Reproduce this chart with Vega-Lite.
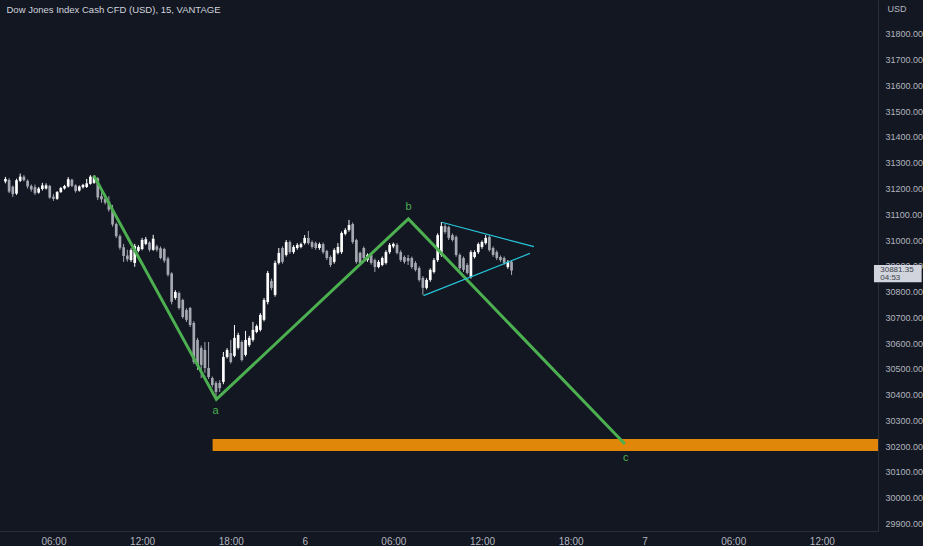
{
  "$schema": "https://vega.github.io/schema/vega-lite/v6.json",
  "width": 878,
  "height": 531,
  "padding": 0,
  "autosize": {"type": "pad"},
  "background": "#131722",
  "config": {"view": {"stroke": null}, "font": "Liberation Sans", "axis": {"labelOverlap": false, "labelFlush": false}},
  "resolve": {"axis": {"x": "independent", "y": "independent"}},
  "datasets": {
    "zone": [{"i1": 43.08, "i2": 240, "p1": 30181, "p2": 30227}],
    "candles": [
      {"i": -13, "o": 31227, "h": 31245, "l": 31220, "c": 31237},
      {"i": -12, "o": 31233, "h": 31240, "l": 31182, "c": 31188},
      {"i": -11, "o": 31207, "h": 31212, "l": 31167, "c": 31178},
      {"i": -10, "o": 31180, "h": 31238, "l": 31175, "c": 31232},
      {"i": -9, "o": 31230, "h": 31258, "l": 31225, "c": 31246},
      {"i": -8, "o": 31246, "h": 31252, "l": 31228, "c": 31232},
      {"i": -7, "o": 31230, "h": 31235, "l": 31200, "c": 31208},
      {"i": -6, "o": 31210, "h": 31216, "l": 31188, "c": 31196},
      {"i": -5, "o": 31205, "h": 31215, "l": 31175, "c": 31182},
      {"i": -4, "o": 31184, "h": 31206, "l": 31180, "c": 31200},
      {"i": -3, "o": 31198, "h": 31222, "l": 31192, "c": 31212},
      {"i": -2, "o": 31200, "h": 31220, "l": 31196, "c": 31212},
      {"i": -1, "o": 31210, "h": 31214, "l": 31160, "c": 31165},
      {"i": 0, "o": 31168, "h": 31178, "l": 31152, "c": 31160},
      {"i": 1, "o": 31160, "h": 31190, "l": 31156, "c": 31186},
      {"i": 2, "o": 31186, "h": 31206, "l": 31183, "c": 31202},
      {"i": 3, "o": 31200, "h": 31214, "l": 31196, "c": 31210},
      {"i": 4, "o": 31208, "h": 31244, "l": 31204, "c": 31236},
      {"i": 5, "o": 31234, "h": 31238, "l": 31205, "c": 31210},
      {"i": 6, "o": 31212, "h": 31216, "l": 31184, "c": 31190},
      {"i": 7, "o": 31192, "h": 31212, "l": 31188, "c": 31208},
      {"i": 8, "o": 31205, "h": 31218, "l": 31200, "c": 31214},
      {"i": 9, "o": 31206, "h": 31237, "l": 31202, "c": 31220},
      {"i": 10, "o": 31218, "h": 31252, "l": 31215, "c": 31246},
      {"i": 11, "o": 31222, "h": 31252, "l": 31218, "c": 31248},
      {"i": 12, "o": 31240, "h": 31244, "l": 31155, "c": 31165},
      {"i": 13, "o": 31170, "h": 31185, "l": 31145, "c": 31158},
      {"i": 14, "o": 31160, "h": 31178, "l": 31138, "c": 31145},
      {"i": 15, "o": 31150, "h": 31170, "l": 31110, "c": 31118},
      {"i": 16, "o": 31120, "h": 31136, "l": 31052, "c": 31060},
      {"i": 17, "o": 31062, "h": 31068, "l": 31008, "c": 31015},
      {"i": 18, "o": 31015, "h": 31022, "l": 30962, "c": 30970},
      {"i": 19, "o": 30972, "h": 30985, "l": 30915, "c": 30938},
      {"i": 20, "o": 30940, "h": 30962, "l": 30916, "c": 30925},
      {"i": 21, "o": 30922, "h": 30968, "l": 30915, "c": 30961},
      {"i": 22, "o": 30911, "h": 30985, "l": 30896, "c": 30977},
      {"i": 23, "o": 30958, "h": 30980, "l": 30952, "c": 30973},
      {"i": 24, "o": 30965, "h": 31008, "l": 30960, "c": 31000},
      {"i": 25, "o": 30985, "h": 31012, "l": 30980, "c": 31003},
      {"i": 26, "o": 30990, "h": 30995, "l": 30955, "c": 30962},
      {"i": 27, "o": 30962, "h": 31020, "l": 30958, "c": 31005},
      {"i": 28, "o": 30975, "h": 30982, "l": 30955, "c": 30962},
      {"i": 29, "o": 30968, "h": 30975, "l": 30925, "c": 30930},
      {"i": 30, "o": 30965, "h": 30970, "l": 30912, "c": 30920},
      {"i": 31, "o": 30928, "h": 30935, "l": 30858, "c": 30865},
      {"i": 32, "o": 30870, "h": 30875, "l": 30750, "c": 30760},
      {"i": 33, "o": 30775, "h": 30805, "l": 30768, "c": 30798},
      {"i": 34, "o": 30794, "h": 30800, "l": 30730, "c": 30736},
      {"i": 35, "o": 30767, "h": 30772, "l": 30695, "c": 30701},
      {"i": 36, "o": 30728, "h": 30735, "l": 30682, "c": 30690},
      {"i": 37, "o": 30736, "h": 30740, "l": 30662, "c": 30670},
      {"i": 38, "o": 30678, "h": 30685, "l": 30518, "c": 30526},
      {"i": 39, "o": 30612, "h": 30620, "l": 30495, "c": 30515},
      {"i": 40, "o": 30581, "h": 30590, "l": 30464, "c": 30515},
      {"i": 41, "o": 30573, "h": 30604, "l": 30484, "c": 30503},
      {"i": 42, "o": 30503, "h": 30604, "l": 30460, "c": 30468},
      {"i": 43, "o": 30464, "h": 30470, "l": 30428, "c": 30437},
      {"i": 44, "o": 30445, "h": 30452, "l": 30385, "c": 30410},
      {"i": 45, "o": 30445, "h": 30456, "l": 30410, "c": 30425},
      {"i": 46, "o": 30449, "h": 30565, "l": 30440, "c": 30546},
      {"i": 47, "o": 30546, "h": 30580, "l": 30540, "c": 30573},
      {"i": 48, "o": 30561, "h": 30612, "l": 30520, "c": 30526},
      {"i": 49, "o": 30550, "h": 30670, "l": 30545, "c": 30620},
      {"i": 50, "o": 30581, "h": 30640, "l": 30575, "c": 30631},
      {"i": 51, "o": 30604, "h": 30610, "l": 30528, "c": 30534},
      {"i": 52, "o": 30554, "h": 30647, "l": 30548, "c": 30612},
      {"i": 53, "o": 30592, "h": 30628, "l": 30585, "c": 30620},
      {"i": 54, "o": 30612, "h": 30682, "l": 30605, "c": 30651},
      {"i": 55, "o": 30643, "h": 30672, "l": 30638, "c": 30666},
      {"i": 56, "o": 30651, "h": 30716, "l": 30645, "c": 30709},
      {"i": 57, "o": 30690, "h": 30775, "l": 30684, "c": 30767},
      {"i": 58, "o": 30759, "h": 30880, "l": 30750, "c": 30872},
      {"i": 59, "o": 30841, "h": 30850, "l": 30805, "c": 30814},
      {"i": 60, "o": 30787, "h": 30920, "l": 30780, "c": 30911},
      {"i": 61, "o": 30911, "h": 30969, "l": 30905, "c": 30950},
      {"i": 62, "o": 30969, "h": 30975, "l": 30908, "c": 30915},
      {"i": 63, "o": 30942, "h": 31000, "l": 30936, "c": 30992},
      {"i": 64, "o": 30992, "h": 30998, "l": 30946, "c": 30953},
      {"i": 65, "o": 30953, "h": 30980, "l": 30946, "c": 30973},
      {"i": 66, "o": 30969, "h": 30988, "l": 30962, "c": 30981},
      {"i": 67, "o": 30973, "h": 30990, "l": 30968, "c": 30984},
      {"i": 68, "o": 30988, "h": 31019, "l": 30982, "c": 31008},
      {"i": 69, "o": 31008, "h": 31035, "l": 30982, "c": 30988},
      {"i": 70, "o": 30992, "h": 30998, "l": 30966, "c": 30973},
      {"i": 71, "o": 30988, "h": 30994, "l": 30962, "c": 30969},
      {"i": 72, "o": 30969, "h": 30990, "l": 30962, "c": 30984},
      {"i": 73, "o": 30984, "h": 30990, "l": 30946, "c": 30953},
      {"i": 74, "o": 30957, "h": 30962, "l": 30922, "c": 30930},
      {"i": 75, "o": 30934, "h": 30940, "l": 30895, "c": 30903},
      {"i": 76, "o": 30915, "h": 30968, "l": 30908, "c": 30961},
      {"i": 77, "o": 30950, "h": 30988, "l": 30944, "c": 30973},
      {"i": 78, "o": 30953, "h": 31033, "l": 30946, "c": 31027},
      {"i": 79, "o": 31024, "h": 31046, "l": 31018, "c": 31039},
      {"i": 80, "o": 31039, "h": 31078, "l": 31032, "c": 31058},
      {"i": 81, "o": 31062, "h": 31068, "l": 30985, "c": 30992},
      {"i": 82, "o": 31000, "h": 31005, "l": 30908, "c": 30915},
      {"i": 83, "o": 30950, "h": 30955, "l": 30904, "c": 30911},
      {"i": 84, "o": 30969, "h": 30975, "l": 30924, "c": 30930},
      {"i": 85, "o": 30922, "h": 30948, "l": 30915, "c": 30942},
      {"i": 86, "o": 30942, "h": 30948, "l": 30904, "c": 30911},
      {"i": 87, "o": 30922, "h": 30928, "l": 30876, "c": 30895},
      {"i": 88, "o": 30895, "h": 30922, "l": 30890, "c": 30915},
      {"i": 89, "o": 30903, "h": 30936, "l": 30898, "c": 30930},
      {"i": 90, "o": 30911, "h": 30960, "l": 30905, "c": 30953},
      {"i": 91, "o": 30953, "h": 30988, "l": 30946, "c": 30981},
      {"i": 92, "o": 30975, "h": 30990, "l": 30968, "c": 30985},
      {"i": 93, "o": 30981, "h": 30988, "l": 30944, "c": 30950},
      {"i": 94, "o": 30953, "h": 30960, "l": 30915, "c": 30922},
      {"i": 95, "o": 30934, "h": 30940, "l": 30908, "c": 30915},
      {"i": 96, "o": 30930, "h": 30942, "l": 30903, "c": 30918},
      {"i": 97, "o": 30930, "h": 30936, "l": 30888, "c": 30895},
      {"i": 98, "o": 30911, "h": 30918, "l": 30878, "c": 30884},
      {"i": 99, "o": 30891, "h": 30898, "l": 30838, "c": 30845},
      {"i": 100, "o": 30853, "h": 30860, "l": 30787, "c": 30814},
      {"i": 101, "o": 30814, "h": 30852, "l": 30808, "c": 30845},
      {"i": 102, "o": 30845, "h": 30890, "l": 30838, "c": 30884},
      {"i": 103, "o": 30876, "h": 30930, "l": 30870, "c": 30922},
      {"i": 104, "o": 30922, "h": 31026, "l": 30915, "c": 31019},
      {"i": 105, "o": 30942, "h": 31070, "l": 30935, "c": 31054},
      {"i": 106, "o": 31054, "h": 31062, "l": 31024, "c": 31031},
      {"i": 107, "o": 31050, "h": 31055, "l": 31000, "c": 31008},
      {"i": 108, "o": 31019, "h": 31025, "l": 30994, "c": 31000},
      {"i": 109, "o": 31012, "h": 31018, "l": 30935, "c": 30942},
      {"i": 110, "o": 30942, "h": 30948, "l": 30884, "c": 30891},
      {"i": 111, "o": 30930, "h": 30936, "l": 30876, "c": 30884},
      {"i": 112, "o": 30903, "h": 30910, "l": 30866, "c": 30872},
      {"i": 113, "o": 30856, "h": 30960, "l": 30850, "c": 30953},
      {"i": 114, "o": 30934, "h": 30960, "l": 30928, "c": 30953},
      {"i": 115, "o": 30953, "h": 30990, "l": 30946, "c": 30984},
      {"i": 116, "o": 30973, "h": 30998, "l": 30966, "c": 30992},
      {"i": 117, "o": 30988, "h": 31019, "l": 30982, "c": 31008},
      {"i": 118, "o": 31012, "h": 31018, "l": 30955, "c": 30961},
      {"i": 119, "o": 30969, "h": 30975, "l": 30935, "c": 30942},
      {"i": 120, "o": 30953, "h": 30960, "l": 30922, "c": 30930},
      {"i": 121, "o": 30934, "h": 30940, "l": 30915, "c": 30922},
      {"i": 122, "o": 30930, "h": 30936, "l": 30904, "c": 30911},
      {"i": 123, "o": 30895, "h": 30922, "l": 30888, "c": 30915},
      {"i": 124, "o": 30915, "h": 30922, "l": 30864, "c": 30881.35}
    ],
    "wave": [
      {"i": 10.97, "p": 31249},
      {"i": 44.1, "p": 30381},
      {"i": 96.07, "p": 31082},
      {"i": 154.67, "p": 30208}
    ],
    "tri": [
      {"seg": "upper", "i": 105.08, "p": 31069},
      {"seg": "upper", "i": 130.05, "p": 30974},
      {"seg": "lower", "i": 100.16, "p": 30784},
      {"seg": "lower", "i": 128.98, "p": 30948}
    ],
    "waveLabels": [
      {"t": "a", "i": 43.9, "p": 30336},
      {"t": "b", "i": 96.1, "p": 31128},
      {"t": "c", "i": 154.9, "p": 30154}
    ],
    "last": [{"p1": 30836, "p2": 30903}],
    "lastText": [
      {"t": "30881.35", "p": 30884},
      {"t": "04:53", "p": 30853}
    ]
  },
  "layer": [
    {
      "data": {"name": "zone"},
      "mark": {"type": "rect", "color": "#e0870a", "clip": true},
      "encoding": {
        "x": {
          "field": "i1", "type": "quantitative",
          "scale": {"domain": [-13.112, 221.836], "nice": false, "zero": false},
          "axis": {
            "orient": "bottom",
            "values": [0, 24, 48, 68, 92, 116, 140, 160, 184, 208],
            "labelExpr": "datum.value == 68 ? '6' : datum.value == 160 ? '7' : (datum.value == 0 || datum.value == 92 || datum.value == 184) ? '06:00' : (datum.value == 24 || datum.value == 116 || datum.value == 208) ? '12:00' : '18:00'",
            "ticks": false, "grid": false,
            "domainColor": "#2a2e39", "domainWidth": 1,
            "labelColor": "#b2b5be", "labelFontSize": 10, "labelPadding": 5,
            "labelFlush": false, "labelOverlap": false,
            "title": "Dow Jones Index Cash CFD (USD), 15, VANTAGE",
            "titleX": 6, "titleY": -522, "titleAlign": "left", "titleBaseline": "middle",
            "titleColor": "#d1d4dc", "titleFontSize": 9.5, "titleFontWeight": "normal"
          }
        },
        "x2": {"field": "i2"},
        "y": {
          "field": "p1", "type": "quantitative",
          "scale": {"domain": [29870, 31932], "nice": false, "zero": false},
          "axis": {
            "orient": "right",
            "values": [29900, 30000, 30100, 30200, 30300, 30400, 30500, 30600, 30700, 30800, 30900, 31000, 31100, 31200, 31300, 31400, 31500, 31600, 31700, 31800],
            "format": ".2f",
            "ticks": false, "grid": false,
            "domainColor": "#2a2e39", "domainWidth": 1,
            "labelColor": "#b2b5be", "labelFontSize": 9, "labelPadding": 7,
            "labelAlign": "left", "labelBaseline": "middle",
            "labelFlush": false, "labelOverlap": false, "labelSeparation": 0,
            "title": "USD", "titleAngle": 0, "titleX": 9, "titleY": 8,
            "titleAlign": "left", "titleBaseline": "middle",
            "titleColor": "#b2b5be", "titleFontSize": 9, "titleFontWeight": "normal"
          }
        },
        "y2": {"field": "p2"}
      }
    },
    {
      "data": {"name": "candles"},
      "mark": {"type": "rule", "strokeWidth": 1, "clip": true},
      "encoding": {
        "x": {"field": "i", "type": "quantitative", "axis": null},
        "y": {"field": "l", "type": "quantitative", "axis": null},
        "y2": {"field": "h"},
        "color": {"condition": {"test": "datum.c >= datum.o", "value": "#ffffff"}, "value": "#a5a8b0"}
      }
    },
    {
      "data": {"name": "candles"},
      "mark": {"type": "bar", "size": 2.7, "clip": true},
      "encoding": {
        "x": {"field": "i", "type": "quantitative", "axis": null},
        "y": {"field": "o", "type": "quantitative", "axis": null},
        "y2": {"field": "c"},
        "color": {"condition": {"test": "datum.c >= datum.o", "value": "#ffffff"}, "value": "#a5a8b0"}
      }
    },
    {
      "data": {"name": "wave"},
      "mark": {"type": "line", "color": "#4caf50", "strokeWidth": 3, "clip": true},
      "encoding": {
        "x": {"field": "i", "type": "quantitative", "axis": null},
        "y": {"field": "p", "type": "quantitative", "axis": null}
      }
    },
    {
      "data": {"name": "tri"},
      "mark": {"type": "line", "color": "#26c6da", "strokeWidth": 1.2, "clip": true},
      "encoding": {
        "x": {"field": "i", "type": "quantitative", "axis": null},
        "y": {"field": "p", "type": "quantitative", "axis": null},
        "detail": {"field": "seg"}
      }
    },
    {
      "data": {"name": "waveLabels"},
      "mark": {"type": "text", "color": "#4caf50", "fontSize": 11, "align": "center", "baseline": "middle"},
      "encoding": {
        "x": {"field": "i", "type": "quantitative", "axis": null},
        "y": {"field": "p", "type": "quantitative", "axis": null},
        "text": {"field": "t"}
      }
    },
    {
      "data": {"name": "last"},
      "mark": {"type": "rect", "color": "#d1d4dc", "clip": false},
      "encoding": {
        "x": {"datum": 222.1, "axis": null},
        "x2": {"datum": 235.0},
        "y": {"field": "p1", "type": "quantitative", "axis": null},
        "y2": {"field": "p2"}
      }
    },
    {
      "data": {"name": "lastText"},
      "mark": {"type": "text", "color": "#3b3f4a", "fontSize": 8, "align": "left", "baseline": "middle", "clip": false},
      "encoding": {
        "x": {"datum": 223.8, "axis": null},
        "y": {"field": "p", "type": "quantitative", "axis": null},
        "text": {"field": "t"}
      }
    }
  ]
}
